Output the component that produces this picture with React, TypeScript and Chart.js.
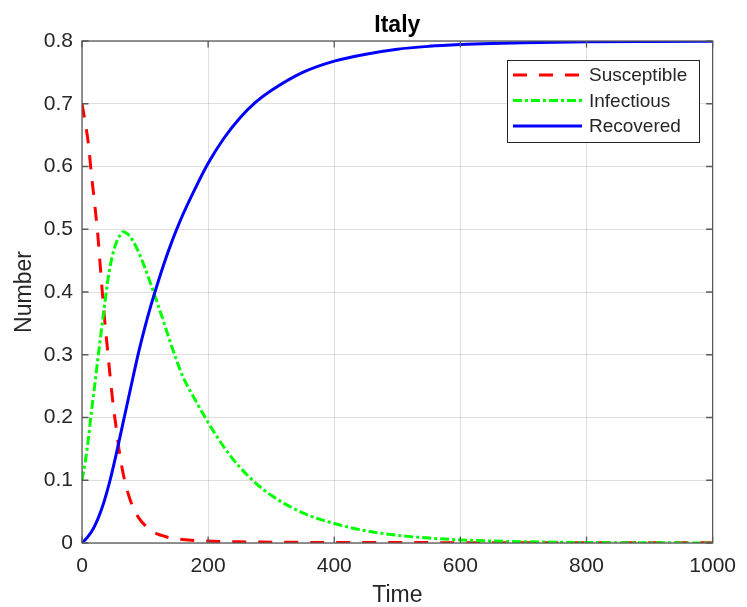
import React, { useEffect, useRef } from "react";
import { Chart, registerables } from "chart.js";

Chart.register(...registerables);

// SIR model output for Italy (fractions of population over time)
const timeSteps = [
  0, 5, 10, 15, 20, 25, 30, 35, 40, 45, 50, 55, 60, 65, 70, 75, 80, 90, 100, 110,
  120, 130, 140, 150, 160, 180, 200, 225, 250, 275, 300, 350, 400, 450, 500, 550,
  600, 650, 700, 800, 900, 1000,
];

const susceptible = [
  0.7, 0.671, 0.637, 0.587, 0.541, 0.492, 0.428, 0.366, 0.313, 0.262, 0.215, 0.178,
  0.14, 0.112, 0.09, 0.073, 0.059, 0.04, 0.028, 0.02, 0.014, 0.011, 0.008, 0.0065,
  0.0055, 0.004, 0.003, 0.0024, 0.0019, 0.0016, 0.0013, 0.001, 0.0008, 0.0007,
  0.0006, 0.0006, 0.0005, 0.0005, 0.0005, 0.0004, 0.0004, 0.0004,
];

const infectious = [
  0.1, 0.128, 0.165, 0.21, 0.25, 0.292, 0.333, 0.373, 0.412, 0.443, 0.465, 0.48,
  0.49, 0.496, 0.494, 0.49, 0.483, 0.463, 0.438, 0.41, 0.381, 0.351, 0.32, 0.291,
  0.265, 0.227, 0.192, 0.153, 0.121, 0.096, 0.076, 0.048, 0.031, 0.0195, 0.0123,
  0.0078, 0.0049, 0.0031, 0.002, 0.0008, 0.0003, 0.0001,
];

const recovered = [
  0, 0.005, 0.011, 0.018, 0.027, 0.038, 0.051, 0.066, 0.083, 0.102, 0.123, 0.145,
  0.168, 0.191, 0.214, 0.237, 0.26, 0.305, 0.345, 0.381, 0.414, 0.445, 0.4735,
  0.4995, 0.5235, 0.566, 0.605, 0.645, 0.677, 0.702, 0.721, 0.75, 0.768, 0.779,
  0.787, 0.7915, 0.7943, 0.7961, 0.7973, 0.7988, 0.7994, 0.7996,
];

const seriesNames = ["Susceptible", "Infectious", "Recovered"];
const xTickValues = [0, 200, 400, 600, 800, 1000];
const yTickValues = [0, 0.1, 0.2, 0.3, 0.4, 0.5, 0.6, 0.7, 0.8];
const chartTitle = "Italy";
const xAxisTitle = "Time";
const yAxisTitle = "Number";

const FONT = "'Liberation Sans', Arial, sans-serif";
const TEXT_COLOR = "#262626";
const AXIS_COLOR = "#5a5a5a";
const GRID_COLOR = "rgba(38,38,38,0.15)";
const TICK_LEN = 6.5;

const W = 747;
const H = 607;

const toPoints = (ys: number[]) => timeSteps.map((t, i) => ({ x: t, y: ys[i] }));

const framePlugin = {
  id: "axesFrame",
  afterDatasetsDraw(chart: any) {
    const { ctx, chartArea } = chart;
    const { left, right, top, bottom } = chartArea;
    const xs = chart.scales.x;
    const ys = chart.scales.y;

    ctx.save();
    ctx.strokeStyle = AXIS_COLOR;
    ctx.lineWidth = 1.3;
    ctx.beginPath();
    // inward tick marks on all four sides
    xTickValues.forEach((v) => {
      const px = xs.getPixelForValue(v);
      ctx.moveTo(px, bottom);
      ctx.lineTo(px, bottom - TICK_LEN);
      ctx.moveTo(px, top);
      ctx.lineTo(px, top + TICK_LEN);
    });
    yTickValues.forEach((v) => {
      const py = ys.getPixelForValue(v);
      ctx.moveTo(left, py);
      ctx.lineTo(left + TICK_LEN, py);
      ctx.moveTo(right, py);
      ctx.lineTo(right - TICK_LEN, py);
    });
    ctx.stroke();
    ctx.strokeRect(left, top, right - left, bottom - top);

    // title and axis titles
    ctx.fillStyle = "#000";
    ctx.font = `bold 23px ${FONT}`;
    ctx.textAlign = "center";
    ctx.textBaseline = "alphabetic";
    ctx.fillText(chartTitle, (left + right) / 2, 32);

    ctx.fillStyle = TEXT_COLOR;
    ctx.font = `23px ${FONT}`;
    ctx.fillText(xAxisTitle, (left + right) / 2, 602);
    ctx.save();
    ctx.translate(31, (top + bottom) / 2);
    ctx.rotate(-Math.PI / 2);
    ctx.fillText(yAxisTitle, 0, 0);
    ctx.restore();

    // legend
    const bx = 507, by = 60, bw = 192, bh = 82;
    ctx.fillStyle = "#fff";
    ctx.fillRect(bx, by, bw, bh);
    ctx.strokeStyle = TEXT_COLOR;
    ctx.lineWidth = 1;
    ctx.strokeRect(bx + 0.5, by + 0.5, bw, bh);
    ctx.font = `19px ${FONT}`;
    ctx.textAlign = "left";
    ctx.textBaseline = "middle";
    chart.data.datasets.forEach((ds: any, i: number) => {
      const ry = 75 + i * 25.5;
      ctx.save();
      ctx.strokeStyle = ds.borderColor;
      ctx.lineWidth = ds.borderWidth;
      ctx.setLineDash(ds.borderDash || []);
      ctx.beginPath();
      ctx.moveTo(513, ry);
      ctx.lineTo(582, ry);
      ctx.stroke();
      ctx.restore();
      ctx.fillStyle = TEXT_COLOR;
      ctx.fillText(ds.label, 589, ry + 1);
    });
    ctx.restore();
  },
};

export default function App() {
  const canvasRef = useRef<HTMLCanvasElement | null>(null);

  useEffect(() => {
    const canvas = canvasRef.current;
    if (!canvas) return;
    const chart = new Chart(canvas, {
      type: "line",
      data: {
        datasets: [
          {
            label: seriesNames[0],
            data: toPoints(susceptible),
            borderColor: "#ff0000",
            borderWidth: 3,
            borderDash: [14, 12],
            pointRadius: 0,
            cubicInterpolationMode: "monotone",
            order: 3,
          },
          {
            label: seriesNames[1],
            data: toPoints(infectious),
            borderColor: "#00ff00",
            borderWidth: 3,
            borderDash: [9, 3, 3, 3],
            pointRadius: 0,
            cubicInterpolationMode: "monotone",
            order: 2,
          },
          {
            label: seriesNames[2],
            data: toPoints(recovered),
            borderColor: "#0000ff",
            borderWidth: 3,
            pointRadius: 0,
            cubicInterpolationMode: "monotone",
            order: 1,
          },
        ],
      },
      options: {
        animation: false,
        responsive: false,
        devicePixelRatio: 1,
        layout: { padding: { top: 41, right: 29, left: 0, bottom: 0 } },
        plugins: {
          legend: { display: false },
          title: { display: false },
          tooltip: { enabled: false },
        },
        scales: {
          x: {
            type: "linear",
            min: 0,
            max: 1000,
            afterBuildTicks: (scale: any) => {
              scale.ticks = xTickValues.map((v) => ({ value: v }));
            },
            afterFit: (scale: any) => {
              scale.height = 64;
            },
            grid: { color: GRID_COLOR, lineWidth: 1, drawTicks: false },
            border: { display: false },
            ticks: {
              padding: 11,
              color: TEXT_COLOR,
              font: { family: FONT, size: 21 },
              maxRotation: 0,
              callback: (v: any) => String(v),
            },
          },
          y: {
            type: "linear",
            min: 0,
            max: 0.8,
            afterBuildTicks: (scale: any) => {
              scale.ticks = yTickValues.map((v) => ({ value: v }));
            },
            afterFit: (scale: any) => {
              scale.width = 82;
            },
            grid: { color: GRID_COLOR, lineWidth: 1, drawTicks: false },
            border: { display: false },
            ticks: {
              padding: 9,
              color: TEXT_COLOR,
              font: { family: FONT, size: 21 },
              callback: (v: any) => (v === 0 ? "0" : Number(v).toFixed(1)),
            },
          },
        },
      },
      plugins: [framePlugin],
    } as any);
    return () => chart.destroy();
  }, []);

  return (
    <div style={{ position: "absolute", left: 0, top: 0, width: W, height: H, background: "#fff" }}>
      <canvas ref={canvasRef} width={W} height={H} style={{ width: W, height: H, display: "block" }} />
    </div>
  );
}
